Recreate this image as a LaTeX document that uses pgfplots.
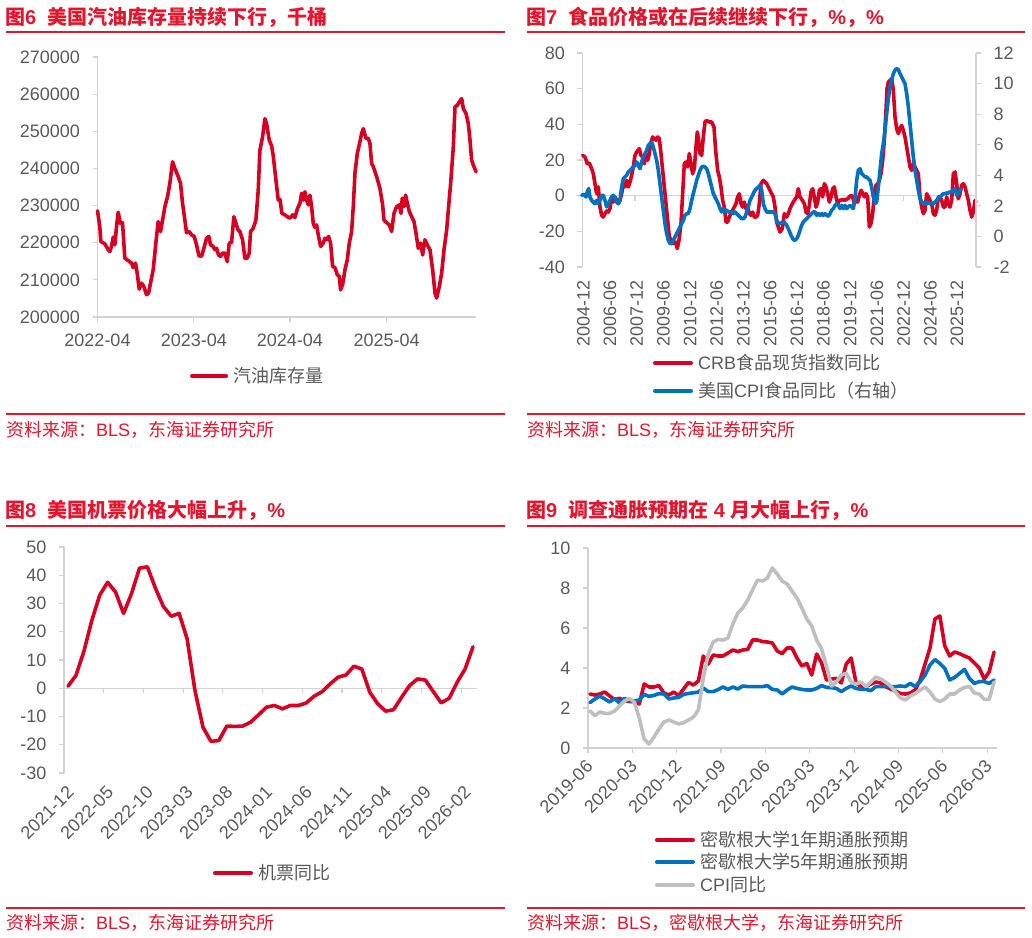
\documentclass[border=0pt]{standalone}
\usepackage{pgfplots}
\usepackage{pgfplotstable}
\pgfplotsset{compat=1.18}
\usepackage{fontspec}
\setmainfont{Liberation Sans}
\newfontfamily\cjk{Noto Sans CJK SC}
\definecolor{dred}{RGB}{214,0,34}
\definecolor{tred}{RGB}{226,22,46}
\definecolor{dblue}{RGB}{0,112,192}
\definecolor{dgray}{RGB}{191,191,191}
\definecolor{axgray}{RGB}{210,210,210}
\definecolor{tkgray}{RGB}{89,89,89}
\newcommand{\tfont}{\fontsize{20}{22}\selectfont}
\newcommand{\sfont}{\fontsize{18}{20}\selectfont}
\pgfplotsset{base/.style={scale only axis, axis lines*=left,
  axis line style={draw=axgray, line width=1.3pt},
  tick style={draw=axgray, line width=1.2pt}, major tick length=5pt, tick align=outside,
  tick label style={font=\sfont, text=tkgray},
  /pgf/number format/assume math mode=true, /pgf/number format/fixed, /pgf/number format/1000 sep={},
  scaled ticks=false, clip=false},
  dl/.style={line width=3.6pt, line join=round, line cap=round}}

\pgfplotstableread{
i r b g
0 2.70 2.27 1.85
1 2.65 2.45 1.62
2 2.70 2.60 1.80
3 2.80 2.45 1.73
4 2.60 2.30 1.73
5 2.42 2.48 1.85
6 2.48 2.25 2.10
7 2.38 2.48 2.35
8 2.32 2.36 2.48
9 2.32 2.35 2.30
10 2.20 2.40 1.50
11 3.20 2.68 0.45
12 3.05 2.58 0.20
13 3.05 2.63 0.55
14 3.12 2.72 0.95
15 2.75 2.70 1.30
16 2.65 2.45 1.40
17 2.80 2.50 1.30
18 2.62 2.53 1.20
19 2.95 2.68 1.27
20 3.28 2.73 1.40
21 3.15 2.76 1.55
22 3.35 2.80 1.90
23 4.60 3.00 3.50
24 4.20 2.82 4.70
25 4.65 2.82 5.30
26 4.60 2.92 5.43
27 4.60 3.05 5.40
28 4.75 2.93 5.50
29 4.90 3.05 6.20
30 4.82 2.95 6.75
31 4.90 3.10 7.00
32 4.93 3.07 7.40
33 5.40 3.07 7.90
34 5.40 3.07 8.40
35 5.32 3.07 8.35
36 5.30 3.12 8.50
37 5.25 2.93 9.00
38 4.85 2.90 8.70
39 4.72 2.70 8.35
40 5.00 2.90 8.20
41 5.00 3.05 7.85
42 4.50 2.98 7.50
43 4.10 2.93 7.00
44 4.23 2.90 6.45
45 3.65 2.90 6.10
46 4.70 2.98 5.40
47 4.25 3.12 4.95
48 3.40 3.03 4.10
49 3.45 3.02 3.10
50 3.48 2.98 3.30
51 3.25 2.82 3.65
52 4.20 2.98 3.73
53 4.50 3.10 3.30
54 3.25 2.98 3.20
55 3.07 2.93 3.30
56 3.07 2.93 3.07
57 3.20 2.87 3.30
58 3.30 3.07 3.55
59 3.25 3.07 3.45
60 3.07 3.07 3.30
61 2.95 3.07 3.10
62 2.85 3.07 2.80
63 2.72 3.10 2.50
64 2.70 3.07 2.40
65 2.75 3.23 2.60
66 2.90 3.07 2.73
67 3.40 3.32 2.90
68 4.20 3.65 3.05
69 5.00 4.15 2.80
70 6.45 4.42 2.45
71 6.60 4.23 2.32
72 5.10 3.98 2.45
73 4.60 3.40 2.70
74 4.80 3.53 2.70
75 4.72 3.73 2.90
76 4.60 3.93 3.03
77 4.50 3.48 3.07
78 4.25 3.23 2.75
79 4.00 3.32 2.70
80 3.45 3.32 2.43
81 3.80 3.23 2.43
82 4.80 3.40 3.30
}\michigan

\begin{document}
\begin{tikzpicture}[x=1pt,y=1pt]

% ---------------- Fig 6 ----------------
\begin{axis}[base, at={(97.5pt,620pt)}, anchor=south west, width=378.5pt, height=260pt,
  xmin=293, xmax=1428, ymin=200000, ymax=270000,
  ytick={200000,210000,220000,230000,240000,250000,260000,270000},
  xtick={293,582,870,1160}, xticklabels={2022-04,2023-04,2024-04,2025-04},
  y tick label style={anchor=east, xshift=-9pt},
  x tick label style={yshift=-8pt}]
\addplot[dred, dl] coordinates {(293,228600) (300,224300) (303,220300) (315,219700) (325,218100) (330,217600) (335,219000) (340,221500) (345,219400) (350,224300) (355,228200) (362,225200) (368,225400) (375,215800) (385,215200) (395,214500) (400,213300) (407,214500) (412,211800) (418,207500) (425,209100) (432,208200) (440,206000) (446,206400) (452,209100) (460,212700) (468,219900) (475,225700) (482,223000) (490,227000) (495,229700) (503,232400) (510,236000) (518,241800) (525,240000) (535,237800) (542,236000) (548,230600) (555,226100) (560,222700) (568,223000) (575,222100) (583,221700) (590,219400) (597,216500) (605,216300) (612,218500) (620,221200) (627,221700) (632,219400) (640,219000) (645,218100) (650,218500) (656,216700) (662,216300) (668,217200) (675,217200) (682,214900) (688,219900) (695,220100) (702,227000) (708,225200) (715,223400) (720,223000) (728,220800) (735,215800) (742,215800) (748,217200) (752,223000) (760,223900) (768,226100) (775,234200) (780,244900) (788,248500) (795,253400) (800,252000) (808,247600) (815,246100) (820,243400) (828,236900) (835,231500) (840,231700) (846,227900) (855,227500) (862,227000) (870,226600) (878,227500) (885,226800) (893,229300) (900,230600) (905,233300) (910,231500) (915,233700) (920,231500) (925,230200) (930,232800) (935,229700) (940,225200) (945,224100) (950,224800) (955,222100) (962,219000) (970,219900) (975,221200) (980,220800) (986,221700) (992,219900) (998,213600) (1005,213300) (1012,211400) (1018,210900) (1022,207300) (1028,208700) (1035,212700) (1042,215400) (1048,219900) (1055,223000) (1060,229700) (1065,238700) (1072,244000) (1080,247200) (1085,249400) (1090,250700) (1098,248100) (1105,248100) (1110,246700) (1115,241300) (1120,240500) (1130,237800) (1140,234600) (1148,230200) (1152,226100) (1160,225400) (1168,224800) (1175,223000) (1182,227900) (1190,229700) (1198,230200) (1203,227900) (1207,232000) (1212,229700) (1217,232800) (1222,230600) (1228,228400) (1235,227000) (1242,225700) (1248,222600) (1255,218500) (1262,219900) (1268,216700) (1275,220800) (1282,219400) (1290,218100) (1298,212700) (1305,206400) (1310,205100) (1318,208200) (1325,211800) (1332,218100) (1340,223400) (1345,228800) (1352,236000) (1360,245800) (1365,256600) (1372,257000) (1378,257900) (1385,258800) (1390,256100) (1398,254800) (1405,252000) (1410,247600) (1415,242200) (1420,240900) (1428,239100)};
\end{axis}

% ---------------- Fig 7 left ----------------
\begin{axis}[base, at={(582.3pt,670pt)}, anchor=south west, width=393.7pt, height=214pt,
  xmin=187, xmax=1368, ymin=-40, ymax=80, ytick={-40,-20,0,20,40,60,80},
  x axis line style={draw=none}, xtick style={draw=none},
  xtick={190,270.1,350.1,430.2,510.3,590.4,670.4,750.5,830.6,910.6,990.7,1070.8,1150.9,1230.9,1311},
  xticklabels={2004-12,2006-06,2007-12,2009-06,2010-12,2012-06,2013-12,2015-06,2016-12,2018-06,2019-12,2021-06,2022-12,2024-06,2025-12},
  x tick label style={yshift=-5pt, rotate=90, anchor=east},
  y tick label style={anchor=east, xshift=-9pt}]
\addplot[axgray, line width=1.3pt, forget plot] coordinates {(187,0) (1368,0)};
\pgfplotsinvokeforeach{345,506,667,828,989,1150,1311}{\draw[axgray, line width=1.2pt] (axis cs:#1,0) -- ([yshift=-5pt]axis cs:#1,0);}
\addplot[dred, dl] coordinates {(188,22.6)(195,21.7)(202,17.9)(208,18.3)(215,15.1)(220,12.3)(225,6.7)(230,1.1)(235,4.9)(240,-6.4)(245,-11.0)(250,-12.0)(255,-10.1)(260,-8.6)(265,-9.2)(270,-7.3)(275,-0.7)(280,-3.6)(285,-0.7)(290,-2.6)(295,-4.5)(300,-2.6)(305,1.1)(310,6.7)(315,4.9)(320,8.6)(325,4.9)(330,7.7)(335,11.4)(340,16.1)(345,22.6)(350,24.5)(358,26.4)(363,22.6)(368,21.7)(373,17.9)(378,23.6)(383,19.8)(387,22.6)(392,29.2)(398,32.9)(403,32.0)(408,31.0)(413,32.9)(418,32.0)(423,23.6)(428,14.2)(433,4.9)(438,-4.5)(443,-13.8)(448,-23.2)(455,-25.0)(460,-26.9)(467,-26.0)(472,-29.7)(477,-25.0)(483,-15.7)(488,1.1)(493,17.9)(498,18.9)(503,16.1)(508,23.6)(513,17.9)(518,12.3)(523,15.1)(528,27.3)(532,35.7)(536,31.0)(540,23.6)(545,22.6)(550,32.9)(555,41.3)(560,42.2)(568,41.3)(575,41.3)(582,38.5)(587,25.4)(593,14.2)(598,10.5)(603,4.9)(608,-2.6)(613,-6.4)(618,-14.8)(623,-14.8)(628,-12.0)(633,-10.1)(638,-8.2)(643,-6.4)(648,-4.5)(653,-0.7)(658,1.1)(663,-4.5)(668,-6.4)(673,-3.6)(678,-7.3)(683,-6.4)(688,-10.1)(693,-11.0)(698,-9.2)(703,-12.0)(708,-12.0)(713,-11.0)(718,-4.5)(723,6.7)(730,8.6)(735,7.7)(740,6.7)(745,4.9)(750,3.0)(755,1.1)(760,-0.7)(765,-6.4)(770,-14.8)(775,-17.6)(780,-20.4)(787,-18.5)(793,-10.1)(800,-12.0)(805,-10.1)(810,-7.3)(817,-4.5)(823,-2.6)(830,-0.7)(835,3.9)(840,-0.7)(847,-2.6)(853,-4.5)(858,-9.2)(863,-10.1)(868,-5.4)(873,2.1)(878,3.9)(883,-0.7)(888,-6.4)(893,-3.6)(898,3.0)(903,3.9)(908,-0.7)(913,6.7)(918,4.9)(923,1.1)(928,-3.6)(933,-0.7)(938,3.9)(943,4.9)(948,-0.7)(953,-4.5)(958,-2.6)(963,-2.6)(968,-2.2)(973,-2.6)(978,-2.2)(983,-1.7)(988,-0.7)(993,0.2)(998,-0.7)(1003,-4.5)(1008,-2.6)(1013,-3.6)(1018,0.2)(1023,3.0)(1028,1.5)(1033,-0.7)(1038,1.1)(1043,-0.7)(1048,-17.6)(1053,-15.7)(1058,-10.1)(1063,1.1)(1068,5.8)(1073,6.7)(1078,8.6)(1083,12.3)(1088,19.8)(1093,31.0)(1098,47.9)(1101,60.0)(1105,63.7)(1110,64.7)(1115,65.6)(1120,59.1)(1125,44.1)(1130,37.6)(1135,34.8)(1140,37.6)(1145,39.4)(1150,36.6)(1155,32.9)(1160,27.3)(1165,21.7)(1170,16.1)(1175,14.2)(1180,17.9)(1185,16.1)(1190,14.2)(1195,12.3)(1200,-0.7)(1205,-6.4)(1210,-10.1)(1215,-8.2)(1220,1.1)(1225,-0.7)(1230,-2.6)(1235,-4.5)(1240,-10.1)(1245,-11.0)(1250,-8.2)(1255,-0.7)(1260,-0.7)(1265,-2.6)(1270,-6.4)(1275,-6.4)(1280,-0.7)(1285,-4.5)(1290,-6.4)(1295,-2.6)(1300,12.3)(1305,13.3)(1310,6.7)(1315,-1.7)(1320,1.1)(1325,5.8)(1330,6.7)(1335,4.9)(1340,1.1)(1345,-2.6)(1350,-8.2)(1355,-12.0)(1360,-9.2)(1365,-2.6)(1368,-3.6)};
\end{axis}

% ---------------- Fig 7 right ----------------
\begin{axis}[base, at={(582.3pt,670pt)}, anchor=south west, width=393.7pt, height=214pt,
  xmin=187, xmax=1368, ymin=-2, ymax=12, ytick={-2,0,2,4,6,8,10,12},
  axis y line*=right, axis x line=none,
  y tick label style={anchor=west, xshift=9pt}]
\addplot[dblue, dl] coordinates {(185,2.69)(192,2.75)(198,2.58)(202,2.91)(206,3.13)(210,2.58)(215,2.36)(220,2.25)(225,2.14)(230,2.36)(235,2.14)(240,2.36)(245,2.69)(250,2.69)(255,2.36)(260,1.93)(265,2.14)(270,2.36)(275,2.58)(280,2.69)(285,2.47)(290,2.25)(295,2.14)(300,2.36)(305,3.23)(310,3.78)(315,3.89)(320,4.00)(325,4.22)(330,4.32)(335,4.43)(340,4.54)(345,4.65)(350,4.87)(355,4.65)(360,4.43)(365,4.87)(370,5.20)(375,5.41)(380,5.63)(385,5.96)(390,6.07)(395,6.18)(400,5.85)(405,5.41)(410,4.98)(415,4.32)(420,3.45)(425,2.58)(430,1.71)(435,0.84)(440,0.18)(445,-0.25)(450,-0.47)(455,-0.47)(460,-0.25)(465,-0.04)(470,0.18)(475,0.40)(480,0.62)(485,0.84)(490,1.05)(495,1.38)(500,1.49)(505,1.49)(510,1.82)(515,2.36)(520,2.80)(525,3.23)(530,3.67)(535,4.00)(540,4.32)(545,4.54)(550,4.59)(555,4.54)(560,4.43)(565,4.11)(570,3.67)(575,3.23)(580,2.80)(585,2.58)(590,2.36)(595,2.14)(600,1.82)(605,1.60)(610,1.82)(615,1.60)(620,1.71)(625,1.60)(630,1.60)(635,1.60)(640,1.49)(645,1.60)(650,1.49)(655,1.38)(660,1.27)(665,1.16)(670,1.16)(675,1.27)(680,1.60)(685,1.93)(690,2.36)(695,2.58)(700,2.80)(705,3.02)(710,3.13)(715,3.23)(720,3.34)(725,3.02)(730,2.14)(735,1.82)(740,1.60)(745,1.60)(750,1.60)(755,1.60)(760,1.60)(765,1.49)(770,1.05)(775,0.84)(780,0.84)(787,0.94)(793,0.94)(800,0.73)(807,0.40)(813,0.07)(820,-0.21)(825,-0.25)(830,-0.15)(835,0.07)(840,0.40)(845,0.73)(850,0.94)(855,1.05)(860,1.16)(865,1.27)(870,1.38)(875,1.49)(880,1.60)(885,1.60)(890,1.38)(895,1.49)(900,1.38)(905,1.49)(910,1.38)(915,1.49)(920,1.38)(925,1.32)(930,1.49)(935,1.71)(940,1.82)(945,2.03)(950,2.14)(955,2.03)(960,1.82)(965,2.03)(970,1.82)(975,2.03)(980,1.82)(985,1.93)(990,2.03)(995,1.93)(1000,1.82)(1005,2.47)(1010,3.67)(1015,4.32)(1020,4.43)(1025,4.11)(1030,4.00)(1035,3.89)(1040,3.89)(1045,3.78)(1050,3.67)(1055,3.23)(1060,2.58)(1065,2.14)(1070,2.25)(1075,3.23)(1080,4.32)(1085,5.41)(1090,6.07)(1095,6.94)(1100,8.03)(1105,9.01)(1110,9.78)(1115,10.21)(1120,10.65)(1125,10.87)(1130,10.98)(1135,10.91)(1140,10.65)(1145,10.43)(1150,10.21)(1155,9.99)(1160,9.34)(1165,8.47)(1170,7.38)(1175,6.29)(1180,5.20)(1185,4.32)(1190,3.67)(1195,3.02)(1200,2.47)(1205,2.25)(1210,2.19)(1215,2.14)(1220,2.25)(1225,2.14)(1230,2.19)(1235,2.14)(1240,2.14)(1245,2.25)(1250,2.36)(1255,2.47)(1260,2.58)(1265,2.69)(1270,2.80)(1275,2.80)(1280,2.84)(1285,2.84)(1290,2.91)(1295,2.91)(1300,3.02)(1305,3.13)(1310,2.69)(1315,2.80)(1320,3.02)(1323,3.06)};
\end{axis}

% ---------------- Fig 8 ----------------
\begin{axis}[base, at={(64pt,164pt)}, anchor=south west, width=413pt, height=226pt,
  xmin=-0.5, xmax=51.5, ymin=-30, ymax=50, ytick={-30,-20,-10,0,10,20,30,40,50},
  x axis line style={draw=none}, xtick style={draw=none},
  xtick={0,5,10,15,20,25,30,35,40,45,50},
  xticklabels={2021-12,2022-05,2022-10,2023-03,2023-08,2024-01,2024-06,2024-11,2025-04,2025-09,2026-02},
  x tick label style={xshift=5pt, yshift=-9pt, rotate=45, anchor=east},
  y tick label style={anchor=east, xshift=-9pt}]
\addplot[axgray, line width=1.3pt, forget plot] coordinates {(-0.5,0) (51.5,0)};
\pgfplotsinvokeforeach{4.5,9.5,14.5,19.5,24.5,29.5,34.5,39.5,44.5,49.5}{\draw[axgray, line width=1.2pt] (axis cs:#1,0) -- ([yshift=-5pt]axis cs:#1,0);}
\addplot[dred, dl] coordinates {(0,0.7)(1,4.5)(2,13)(3,24)(4,33)(5,37.5)(6,34)(7,26.5)(8,33.5)(9,42.5)(10,43)(11,35.5)(12,29)(13,25.5)(14,26.5)(15,17.5)(16,-1)(17,-13.8)(18,-18.8)(19,-18.5)(20,-13.4)(21,-13.5)(22,-13.4)(23,-12)(24,-9.4)(25,-6.7)(26,-6.1)(27,-7.3)(28,-6.1)(29,-6.1)(30,-5.2)(31,-2.8)(32,-1.2)(33,1.5)(34,3.9)(35,4.7)(36,7.8)(37,6.8)(38,-1.4)(39,-5.5)(40,-8.1)(41,-7.6)(42,-3.2)(43,0.9)(44,3.3)(45,2.9)(46,-1.2)(47,-5.2)(48,-3.5)(49,2.1)(50,6.8)(51,14.7)};
\end{axis}

% ---------------- Fig 9 ----------------
\begin{axis}[base, at={(588pt,189pt)}, anchor=south west, width=409pt, height=200pt,
  xmin=-0.4, xmax=82.6, ymin=0, ymax=10, ytick={0,2,4,6,8,10},
  xtick={-0.4,8.6,17.6,26.6,35.6,44.6,53.6,62.6,71.6,80.6},
  xticklabels={2019-06,2020-03,2020-12,2021-09,2022-06,2023-03,2023-12,2024-09,2025-06,2026-03},
  x tick label style={xshift=4pt, yshift=-8pt, rotate=45, anchor=east},
  y tick label style={anchor=east, xshift=-9pt}]
\addplot[dred, dl] table[x=i, y=r] {\michigan};
\addplot[dblue, dl] table[x=i, y=b] {\michigan};
\addplot[dgray, dl] table[x=i, y=g] {\michigan};
\end{axis}

% ---------------- Titles and rules ----------------
\node[anchor=base west, inner sep=0, text=tred, font=\tfont\bfseries] at (5,912.6) {{\cjk 图}6\hspace{11pt}{\cjk 美国汽油库存量持续下行，千桶}};
\node[anchor=base west, inner sep=0, text=tred, font=\tfont\bfseries] at (526,912.6) {{\cjk 图}7\hspace{11pt}{\cjk 食品价格或在后续继续下行，}\%{\cjk ，}\%};
\node[anchor=base west, inner sep=0, text=tred, font=\tfont\bfseries] at (5,419.6) {{\cjk 图}8\hspace{11pt}{\cjk 美国机票价格大幅上升，}\%};
\node[anchor=base west, inner sep=0, text=tred, font=\tfont\bfseries] at (526,419.6) {{\cjk 图}9\hspace{11pt}{\cjk 调查通胀预期在} 4 {\cjk 月大幅上行，}\%};
\draw[tred, line width=2pt] (6,905) -- (505,905);
\draw[tred, line width=2pt] (527,905) -- (1025,905);
\draw[tred, line width=2pt] (6,411) -- (505,411);
\draw[tred, line width=2pt] (527,411) -- (1025,411);
\draw[tred, line width=1.5pt] (6,523) -- (505,523);
\draw[tred, line width=1.5pt] (527,523) -- (1025,523);
\draw[tred, line width=1.5pt] (6,29) -- (505,29);
\draw[tred, line width=1.5pt] (527,29) -- (1025,29);
\node[anchor=base west, inner sep=0, text=tred, font=\sfont] at (6,500) {{\cjk 资料来源：}BLS{\cjk ，东海证券研究所}};
\node[anchor=base west, inner sep=0, text=tred, font=\sfont] at (527,500) {{\cjk 资料来源：}BLS{\cjk ，东海证券研究所}};
\node[anchor=base west, inner sep=0, text=tred, font=\sfont] at (6,8) {{\cjk 资料来源：}BLS{\cjk ，东海证券研究所}};
\node[anchor=base west, inner sep=0, text=tred, font=\sfont] at (527,8) {{\cjk 资料来源：}BLS{\cjk ，密歇根大学，东海证券研究所}};

% ---------------- Legends ----------------
\draw[dred, line width=4pt, line cap=round] (192,561) -- (226,561);
\node[anchor=base west, inner sep=0, text=tkgray, font=\sfont] at (233,554.3) {\cjk 汽油库存量};
\draw[dred, line width=4pt, line cap=round] (655,574) -- (691,574);
\node[anchor=base west, inner sep=0, text=tkgray, font=\sfont] at (698,567.3) {CRB{\cjk 食品现货指数同比}};
\draw[dblue, line width=4pt, line cap=round] (655,546) -- (691,546);
\node[anchor=base west, inner sep=0, text=tkgray, font=\sfont] at (698,539.3) {{\cjk 美国}CPI{\cjk 食品同比（右轴）}};
\draw[dred, line width=4pt, line cap=round] (215,64) -- (251,64);
\node[anchor=base west, inner sep=0, text=tkgray, font=\sfont] at (258,57.3) {\cjk 机票同比};
\draw[dred, line width=4pt, line cap=round] (657,97) -- (693,97);
\node[anchor=base west, inner sep=0, text=tkgray, font=\sfont] at (700,90.3) {{\cjk 密歇根大学}1{\cjk 年期通胀预期}};
\draw[dblue, line width=4pt, line cap=round] (657,75) -- (693,75);
\node[anchor=base west, inner sep=0, text=tkgray, font=\sfont] at (700,68.3) {{\cjk 密歇根大学}5{\cjk 年期通胀预期}};
\draw[dgray, line width=4pt, line cap=round] (657,52) -- (693,52);
\node[anchor=base west, inner sep=0, text=tkgray, font=\sfont] at (700,45.3) {CPI{\cjk 同比}};

\path (0,0) rectangle (1032,937);
\end{tikzpicture}
\end{document}
